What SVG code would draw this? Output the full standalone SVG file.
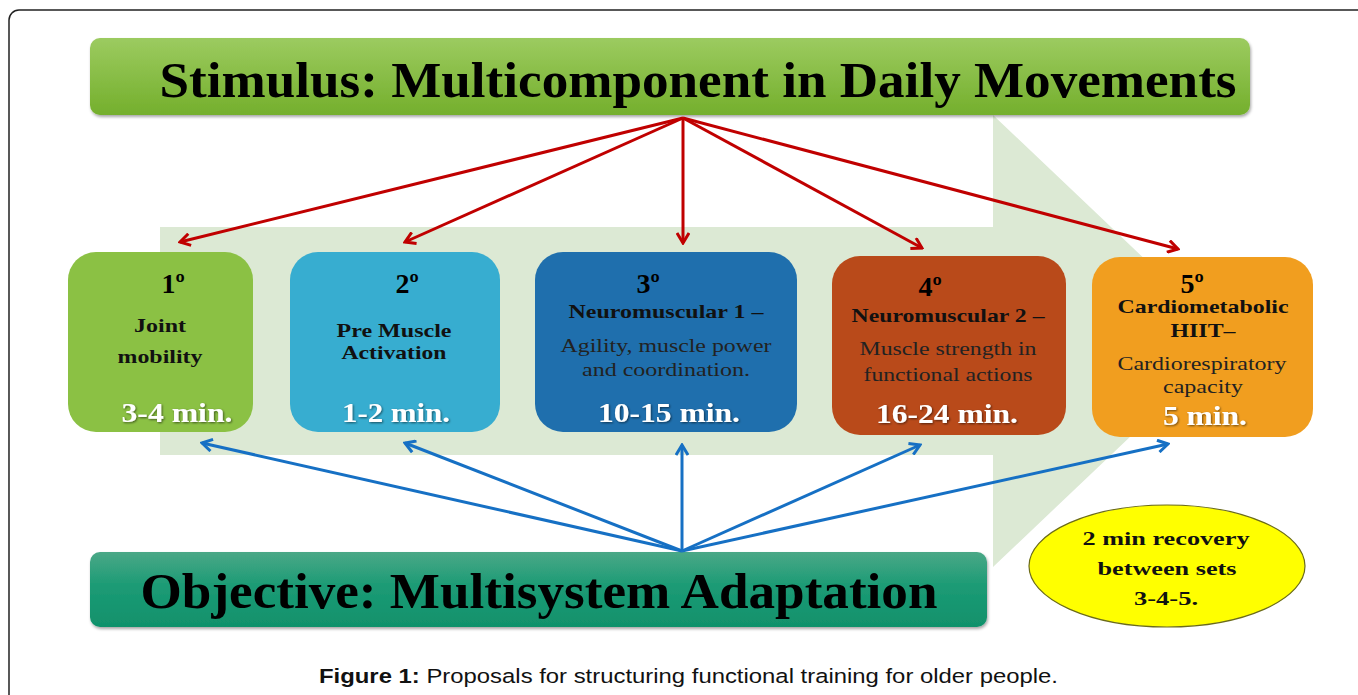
<svg xmlns="http://www.w3.org/2000/svg" width="1358" height="695" viewBox="0 0 1358 695">
<defs>
<linearGradient id="gTop" x1="0" y1="0" x2="0" y2="1"><stop offset="0" stop-color="#9ccb60"/><stop offset="1" stop-color="#74af2c"/></linearGradient>
<linearGradient id="gBot" x1="0" y1="0" x2="0" y2="1"><stop offset="0" stop-color="#4aa887"/><stop offset="0.45" stop-color="#1c9b75"/><stop offset="1" stop-color="#10916b"/></linearGradient>
<filter id="sh" x="-5%" y="-10%" width="110%" height="125%"><feDropShadow dx="1" dy="2" stdDeviation="1.5" flood-color="#000" flood-opacity="0.35"/></filter>
<filter id="tsh" x="-10%" y="-20%" width="120%" height="150%"><feDropShadow dx="1" dy="1" stdDeviation="0.8" flood-color="#000" flood-opacity="0.55"/></filter>
<marker id="mRed" viewBox="0 0 14 14" refX="12" refY="7" markerWidth="14" markerHeight="14" markerUnits="userSpaceOnUse" orient="auto"><path d="M2,1 L12,7 L2,13" fill="none" stroke="#c00000" stroke-width="3"/></marker>
<marker id="mBlue" viewBox="0 0 14 14" refX="12" refY="7" markerWidth="14" markerHeight="14" markerUnits="userSpaceOnUse" orient="auto"><path d="M2,1 L12,7 L2,13" fill="none" stroke="#1670c4" stroke-width="3"/></marker>
</defs>
<style>
.ser{font-family:"Liberation Serif","Times New Roman",serif;}
.b{font-weight:bold;}
.hd{font-family:"Liberation Serif",serif;font-weight:bold;fill:#000;text-anchor:middle;}
.num{font-family:"Liberation Serif",serif;font-weight:bold;font-size:28px;fill:#000;text-anchor:middle;}
.tb{font-family:"Liberation Serif",serif;font-weight:bold;font-size:19px;fill:#111;text-anchor:middle;}
.tr{font-family:"Liberation Serif",serif;font-size:19px;fill:#222;text-anchor:middle;}
.mn{font-family:"Liberation Serif",serif;font-weight:bold;font-size:27px;fill:#fff;text-anchor:middle;filter:url(#tsh);}
.red{stroke:#c00000;stroke-width:3;fill:none;marker-end:url(#mRed);}
.blue{stroke:#1670c4;stroke-width:3;fill:none;marker-end:url(#mBlue);}
</style>
<rect x="0" y="0" width="1358" height="695" fill="#fff"/>
<rect x="9" y="10" width="1420" height="740" rx="10" fill="none" stroke="#222" stroke-width="1.5"/>

<g id="big-arrow">
<path d="M160,227 L993,227 L993,115 L1231,341 L993,567 L993,455 L160,455 Z" fill="#dce9d4"/>
</g>

<g id="stimulus">
<rect x="90" y="38" width="1160" height="77" rx="10" fill="url(#gTop)" filter="url(#sh)"/>
<text class="hd" x="698" y="97" font-size="51" textLength="1077" lengthAdjust="spacingAndGlyphs">Stimulus: Multicomponent in Daily Movements</text>
</g>

<g id="objective">
<rect x="90" y="552" width="897" height="75" rx="10" fill="url(#gBot)" filter="url(#sh)"/>
<text class="hd" x="539" y="608" font-size="50" textLength="797" lengthAdjust="spacingAndGlyphs">Objective: Multisystem Adaptation</text>
</g>

<g id="connectors">
<line class="red" x1="683" y1="118" x2="180" y2="242"/>
<line class="red" x1="683" y1="118" x2="405" y2="242"/>
<line class="red" x1="683" y1="118" x2="683" y2="243"/>
<line class="red" x1="683" y1="118" x2="922" y2="248"/>
<line class="red" x1="683" y1="118" x2="1178" y2="249"/>
<line class="blue" x1="682" y1="551" x2="202" y2="443"/>
<line class="blue" x1="682" y1="551" x2="405" y2="443"/>
<line class="blue" x1="682" y1="551" x2="682" y2="445"/>
<line class="blue" x1="682" y1="551" x2="920" y2="445"/>
<line class="blue" x1="682" y1="551" x2="1168" y2="444"/>
</g>

<g id="step1">
<rect x="68" y="252" width="185" height="180" rx="28" fill="#8bc144"/>
<text class="num" x="173" y="293">1º</text>
<text class="tb" x="160" y="332" textLength="52" lengthAdjust="spacingAndGlyphs">Joint</text>
<text class="tb" x="160" y="363" textLength="85" lengthAdjust="spacingAndGlyphs">mobility</text>
<text class="mn" x="177" y="422" textLength="111" lengthAdjust="spacingAndGlyphs">3-4 min.</text>
</g>

<g id="step2">
<rect x="290" y="252" width="210" height="180" rx="28" fill="#37add0"/>
<text class="num" x="407" y="293">2º</text>
<text class="tb" x="394" y="337" textLength="115" lengthAdjust="spacingAndGlyphs">Pre Muscle</text>
<text class="tb" x="394" y="359" textLength="105" lengthAdjust="spacingAndGlyphs">Activation</text>
<text class="mn" x="396" y="422" textLength="108" lengthAdjust="spacingAndGlyphs">1-2 min.</text>
</g>

<g id="step3">
<rect x="535" y="252" width="262" height="180" rx="28" fill="#1f6fad"/>
<text class="num" x="648" y="293">3º</text>
<text class="tb" x="666" y="318" textLength="195" lengthAdjust="spacingAndGlyphs">Neuromuscular 1 –</text>
<text class="tr" x="666" y="352" textLength="211" lengthAdjust="spacingAndGlyphs">Agility, muscle power</text>
<text class="tr" x="666" y="376" textLength="168" lengthAdjust="spacingAndGlyphs">and coordination.</text>
<text class="mn" x="669" y="422" textLength="142" lengthAdjust="spacingAndGlyphs">10-15 min.</text>
</g>

<g id="step4">
<rect x="832" y="256" width="234" height="179" rx="28" fill="#b94a1a"/>
<text class="num" x="930" y="296">4º</text>
<text class="tb" x="948" y="322" textLength="193" lengthAdjust="spacingAndGlyphs">Neuromuscular 2 –</text>
<text class="tr" x="948" y="355" textLength="177" lengthAdjust="spacingAndGlyphs">Muscle strength in</text>
<text class="tr" x="948" y="381" textLength="169" lengthAdjust="spacingAndGlyphs">functional actions</text>
<text class="mn" x="947" y="423" textLength="142" lengthAdjust="spacingAndGlyphs">16-24 min.</text>
</g>

<g id="step5">
<rect x="1092" y="257" width="221" height="180" rx="28" fill="#f19e1f"/>
<text class="num" x="1192" y="293">5º</text>
<text class="tb" x="1203" y="313" textLength="171" lengthAdjust="spacingAndGlyphs">Cardiometabolic</text>
<text class="tb" x="1203" y="337" textLength="65" lengthAdjust="spacingAndGlyphs">HIIT–</text>
<text class="tr" x="1202" y="370" textLength="169" lengthAdjust="spacingAndGlyphs">Cardiorespiratory</text>
<text class="tr" x="1203" y="393" textLength="80" lengthAdjust="spacingAndGlyphs">capacity</text>
<text class="mn" x="1205" y="425" textLength="84" lengthAdjust="spacingAndGlyphs">5 min.</text>
</g>

<g id="recovery">
<ellipse cx="1167" cy="566" rx="138" ry="61" fill="#ffff00" stroke="#6b6b1a" stroke-width="1.2"/>
<text class="tb" x="1166" y="545" textLength="167" lengthAdjust="spacingAndGlyphs">2 min recovery</text>
<text class="tb" x="1167" y="575" textLength="139" lengthAdjust="spacingAndGlyphs">between sets</text>
<text class="tb" x="1166" y="605" textLength="64" lengthAdjust="spacingAndGlyphs">3-4-5.</text>
</g>

<g id="caption">
<text x="319" y="683" font-family="'Liberation Sans',Arial,sans-serif" font-size="20.5" fill="#111" textLength="739" lengthAdjust="spacingAndGlyphs"><tspan font-weight="bold">Figure 1:</tspan> Proposals for structuring functional training for older people.</text>
</g>
</svg>
